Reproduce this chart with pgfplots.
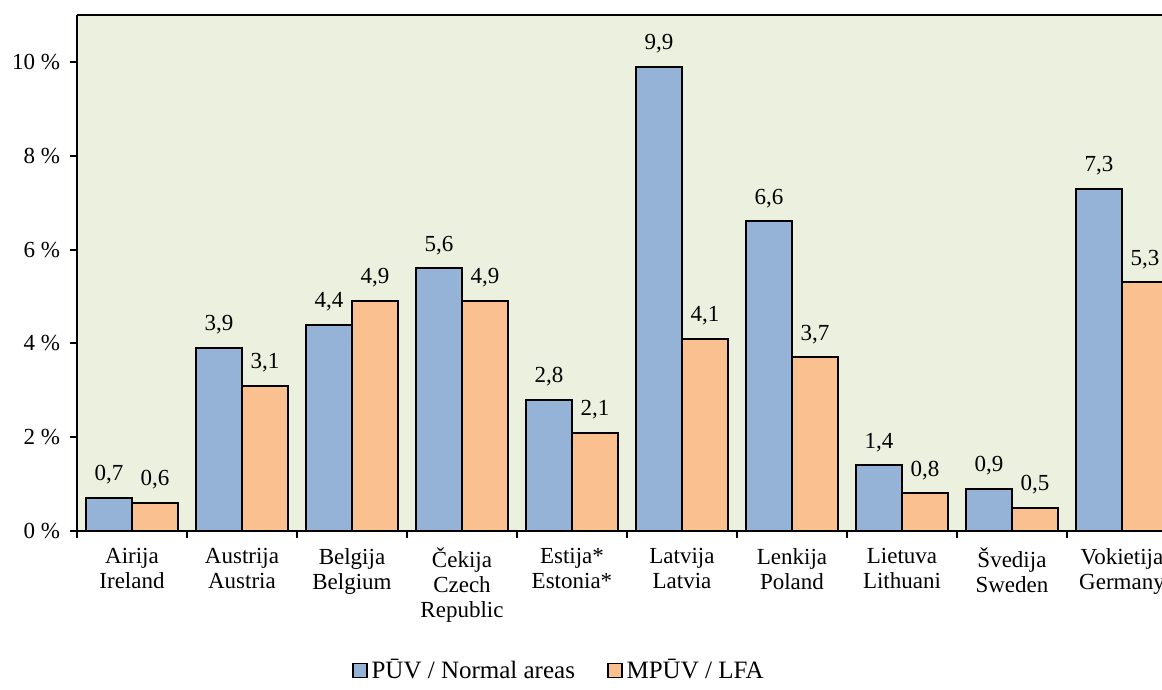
\documentclass[border=0pt]{standalone}
\usepackage{pgfplots}
\pgfplotsset{compat=1.18}
\usepackage{fontspec}
\setmainfont{Liberation Serif}
\definecolor{puvblue}{HTML}{95B3D7}
\definecolor{lfaorange}{HTML}{FAC090}
\definecolor{plotbg}{HTML}{EBF1DE}

\begin{document}
\begin{tikzpicture}[trim axis right]
\begin{axis}[
    scale only axis,
    width=542.5pt, height=258pt,
    ybar=0pt, bar width=0.418,
    ymin=0, ymax=11,
    xmin=-0.5, xmax=9.364,
    axis x line*=box, axis y line*=left,
    axis line style={line width=1pt},
    axis background/.style={fill=plotbg},
    tick align=outside,
    tick style={line width=1pt, black},
    major tick length=3.5pt,
    ytick={0,2,...,10},
    yticklabel={\pgfmathprintnumber{\tick}~\%},
    yticklabel style={xshift=-1.5pt},
    /pgf/number format/assume math mode=true,
    xtick={-0.5,0.5,...,9.5},
    xticklabels={,,,,,,,,,,},
    xtick pos=bottom, ytick pos=left,
    extra x ticks={0,1,...,9},
    extra x tick labels={Airija\\Ireland, Austrija\\Austria, Belgija\\Belgium,
        Čekija\\Czech\\Republic, Estija*\\Estonia*, Latvija\\Latvia,
        Lenkija\\Poland, Lietuva\\Lithuani, Švedija\\Sweden, Vokietija\\Germany},
    extra x tick style={major tick length=0pt,
        tick label style={align=center, yshift=-5pt}},
    tick label style={font=\fontsize{11.5}{12.5}\selectfont},
    nodes near coords={\pgfmathprintnumber[fixed,fixed zerofill,precision=1,use comma]{\pgfplotspointmeta}},
    every node near coord/.append style={font=\fontsize{11.5}{12.5}\selectfont, black, yshift=3pt},
    legend style={at={(0.445,-0.27)}, anchor=center, draw=none, fill=none,
        legend columns=-1, font=\fontsize{12.5}{14}\selectfont,
        /tikz/every even column/.append style={column sep=14pt}},
    legend image code/.code={\draw[#1,draw=black,line width=0.8pt] (0pt,-3.5pt) rectangle (7pt,3.5pt);},
]
\addplot[fill=puvblue, draw=black, line width=1pt, bar shift=-0.209] coordinates {
    (0,0.7) (1,3.9) (2,4.4) (3,5.6) (4,2.8) (5,9.9) (6,6.6) (7,1.4) (8,0.9) (9,7.3)
};
\addplot[fill=lfaorange, draw=black, line width=1pt, bar shift=0.209] coordinates {
    (0,0.6) (1,3.1) (2,4.9) (3,4.9) (4,2.1) (5,4.1) (6,3.7) (7,0.8) (8,0.5) (9,5.3)
};
\legend{PŪV / Normal areas, MPŪV / LFA}
\end{axis}
\path (current axis.north west) ++(0,7.5pt);
\path (current axis.west) ++(-38.5pt,0);
\end{tikzpicture}
\end{document}
